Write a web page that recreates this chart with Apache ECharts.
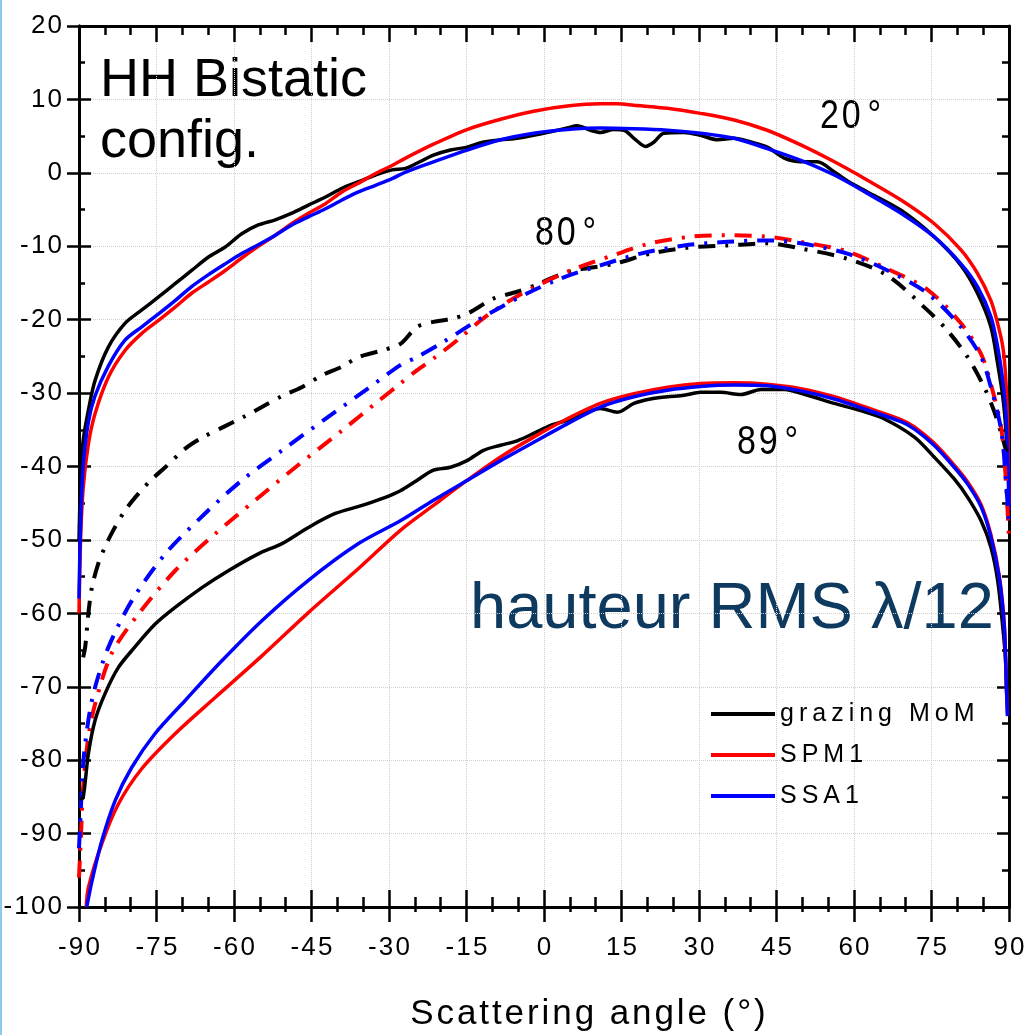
<!DOCTYPE html>
<html>
<head>
<meta charset="utf-8">
<script src="https://cdn.jsdelivr.net/npm/echarts@6/dist/echarts.min.js"></script>
<style>
html,body{margin:0;padding:0;background:#fff;}
#chart{width:1031px;height:1035px;}
</style>
</head>
<body>
<div id="chart"></div>
<script>
// ---- Data (scattering angle in degrees, level in dB) ----
const legendNames = ['grazing MoM', 'SPM1', 'SSA1'];

// 20° incidence (solid)
const mom20 = [[-90,-50],[-89.6,-40],[-89.2,-36.5],[-88.2,-32.4],[-86.9,-28.3],[-84.3,-23.7],[-81.1,-20.5],[-77.9,-18.7],[-74.6,-16.9],[-71.4,-15.1],[-68.2,-13.3],[-65,-11.5],[-61.7,-10.1],[-58.5,-8.3],[-55.3,-7.1],[-52,-6.4],[-48.8,-5.5],[-45.6,-4.4],[-42.3,-3.3],[-39.1,-2.1],[-35.9,-1.2],[-32.6,-0.3],[-29.4,0.4],[-26.8,0.6],[-24.6,1.3],[-21.4,2.4],[-18.1,3.1],[-14.9,3.5],[-11.7,4.2],[-8.4,4.5],[-5.2,4.7],[-2,5.1],[1.3,5.6],[4.5,6.1],[6.4,6.4],[9,5.8],[10.9,5.5],[13.5,5.9],[15.5,5.8],[17.4,4.7],[19.7,3.6],[21.3,4.2],[23.2,5.4],[27.1,5.5],[30.3,5.1],[33.6,4.5],[36.8,4.7],[40,4.2],[43.2,3.5],[46.5,2.0],[49.7,1.5],[52.9,1.5],[56.2,0.1],[59.4,-1.4],[62.6,-2.6],[69.1,-5.1],[75.5,-8.7],[80.7,-12.6],[83.9,-16.4],[86.5,-21],[87.8,-26],[88.8,-30.5],[89.4,-35],[89.8,-40],[90,-43]];
const spm20 = [[-90,-60],[-89.7,-50],[-89.2,-43],[-88.2,-37],[-86.9,-32.8],[-84.3,-27.8],[-81.1,-24.2],[-77.9,-21.9],[-74.6,-20.1],[-71.4,-18.3],[-68.2,-16.4],[-65,-14.9],[-61.7,-13.3],[-58.5,-11.6],[-55.3,-10.0],[-52,-8.5],[-48.8,-6.9],[-45.6,-5.5],[-42.3,-4.2],[-39.1,-2.6],[-35.9,-1.4],[-32.6,-0.1],[-29.4,1.0],[-26.8,2.0],[-21.4,3.9],[-14.9,5.9],[-8.4,7.3],[-2,8.4],[4.5,9.1],[10.9,9.4],[14.2,9.4],[17.4,9.2],[23.9,8.8],[30.3,8.1],[36.8,7.2],[43.2,5.8],[49.7,3.8],[56.2,1.5],[62.6,-1.0],[69.1,-3.7],[75.5,-6.9],[80.7,-10.5],[83.9,-13.7],[86.5,-17.4],[87.8,-20.5],[88.8,-23.7],[89.4,-28.3],[89.8,-36],[90,-45]];
const ssa20 = [[-90,-58],[-89.7,-48],[-89.2,-40],[-88.2,-34],[-86.9,-30.4],[-84.3,-26.3],[-81.1,-22.8],[-77.9,-21.0],[-74.6,-19.2],[-71.4,-17.4],[-68.2,-15.5],[-65,-13.9],[-61.7,-12.4],[-58.5,-11.0],[-55.3,-9.8],[-52,-8.5],[-48.8,-7.1],[-45.6,-6.0],[-42.3,-4.9],[-39.1,-3.7],[-35.9,-2.6],[-32.6,-1.7],[-29.4,-0.8],[-26.8,0.1],[-21.4,1.5],[-14.9,3.1],[-8.4,4.5],[-2,5.4],[4.5,5.9],[10.9,6.1],[17.4,6.0],[23.9,5.8],[30.3,5.4],[36.8,4.7],[43.2,3.3],[49.7,1.7],[56.2,-0.3],[62.6,-2.8],[69.1,-5.5],[75.5,-8.7],[80.7,-12.4],[83.9,-15.5],[86.5,-19.6],[87.8,-23.7],[88.8,-28.3],[89.4,-32.8],[89.8,-40],[90,-46]];

// 80° incidence (dash-dot)
const mom80 = [[-89.2,-66],[-88.8,-64.6],[-88.2,-60.1],[-87.5,-56.5],[-86.3,-53.3],[-85,-51.0],[-83.3,-48.6],[-81.1,-46.0],[-78.5,-43.7],[-76,-41.8],[-73.3,-40.1],[-69.5,-37.6],[-66,-36.0],[-62,-34.6],[-58,-33.2],[-54.6,-31.9],[-50.7,-30.4],[-46.9,-29.2],[-43,-27.6],[-39.1,-26.4],[-35.9,-25.1],[-31.4,-24.2],[-27.8,-23.3],[-24.6,-21.0],[-21.4,-20.3],[-18.1,-19.9],[-14.9,-19.2],[-9.7,-17.1],[-5.2,-16.2],[-1.3,-15.2],[1.9,-14.2],[5.8,-13.3],[13.5,-12.4],[20.6,-11.0],[27.7,-10.2],[35.5,-9.9],[43.2,-9.6],[49.7,-10.3],[58.7,-11.7],[66.5,-14.0],[74.2,-18.7],[78.1,-21.5],[82,-25.1],[85.2,-29.2],[87.1,-32.4],[88.5,-35.5],[89.5,-38]];
const spm80 = [[-90,-96],[-89.6,-90],[-89.2,-83.7],[-88.2,-76.9],[-86.9,-72.4],[-83.7,-65.5],[-78.5,-60.1],[-71.4,-54.2],[-63.7,-49.2],[-55.9,-44.6],[-48.1,-40.1],[-39.1,-35.1],[-31.9,-31.0],[-27.8,-28.7],[-24.6,-26.9],[-21.4,-25.3],[-16.8,-22.8],[-11.7,-19.8],[-7.1,-17.6],[-2,-15.6],[5.8,-13.1],[13.5,-11.2],[20.6,-9.6],[28.4,-8.7],[35.5,-8.5],[43.2,-8.7],[49.7,-9.4],[58.7,-10.7],[66.5,-13.1],[74.2,-15.9],[80.7,-20.5],[84.6,-24.7],[86.5,-28.8],[88.5,-34.8],[89.4,-41.9],[90,-50]];
const ssa80 = [[-90,-92],[-89.6,-86],[-89.2,-80.5],[-88.2,-74.6],[-86.9,-70.1],[-84.3,-64.6],[-79.8,-58.3],[-73.3,-51.9],[-65.6,-46.4],[-58.5,-41.9],[-50.7,-37.8],[-41.7,-33.2],[-34.3,-29.5],[-27.8,-26.2],[-24.6,-25.1],[-19.4,-23.0],[-11.7,-19.6],[-3.2,-16.4],[3.2,-14.4],[10.9,-12.6],[18.7,-11.0],[27.1,-9.9],[35.5,-9.4],[43.2,-9.2],[49.7,-9.6],[58.7,-11.0],[66.5,-13.3],[74.2,-16.4],[80.7,-21.0],[84.6,-25.1],[86.5,-29.2],[88.5,-35.1],[89.4,-41.9],[90,-48]];

// 89° incidence (solid)
const mom89 = [[-89.8,-85.3],[-89.2,-85.1],[-88.2,-79.2],[-86.9,-74.6],[-85,-71.0],[-82.4,-67.4],[-79.2,-64.6],[-75.3,-61.5],[-71.4,-59.2],[-66.2,-56.5],[-61.1,-54.2],[-55.3,-51.9],[-50.7,-50.5],[-45.6,-48.3],[-40.4,-46.4],[-35.2,-45.3],[-30.7,-44.2],[-27.8,-43.3],[-24.6,-41.9],[-21.4,-40.5],[-18.1,-40.1],[-14.9,-39.2],[-11.7,-37.8],[-8.4,-37.1],[-5.2,-36.5],[-2,-35.5],[1.3,-34.4],[4.5,-33.7],[7.7,-32.8],[10.9,-32.1],[14.2,-32.6],[17.4,-31.4],[20.6,-30.8],[23.9,-30.5],[27.1,-30.3],[30.3,-29.9],[34.2,-29.9],[38.1,-30.2],[42,-29.5],[46.5,-29.5],[51,-30.3],[56.2,-31.4],[61.3,-32.4],[65.8,-33.5],[71.7,-36.0],[75.5,-38.7],[79.4,-41.7],[82,-44.2],[84.6,-47.4],[86.5,-51.0],[87.8,-55.5],[88.8,-61.9],[89.3,-66],[89.6,-72]];
const spm89 = [[-88.6,-100],[-88.2,-97.4],[-85.6,-91.4],[-82.4,-86.0],[-77.9,-81.2],[-71.4,-76.4],[-63.7,-71.5],[-54.6,-65.8],[-45.6,-59.9],[-35.9,-53.9],[-27.8,-48.7],[-21.4,-45.3],[-14.9,-41.9],[-8.4,-38.7],[-2,-36.0],[4.5,-33.5],[10.9,-31.4],[17.4,-30.1],[23.9,-29.2],[30.3,-28.7],[36.8,-28.6],[43.2,-28.8],[49.7,-29.4],[56.2,-30.5],[62.6,-32.0],[69.1,-33.6],[71.7,-34.6],[75.5,-36.8],[79.4,-39.8],[82,-42.1],[84.6,-45.2],[86.5,-49.3],[88.1,-54.8],[89.1,-61.6],[89.5,-70],[89.7,-73.7]];
const ssa89 = [[-88.5,-100],[-87.5,-96.5],[-85.6,-91.0],[-83,-85.5],[-79.8,-81.0],[-75.3,-76.4],[-69.5,-71.9],[-62.4,-66.5],[-54.6,-61.0],[-45.6,-55.5],[-35.9,-50.5],[-27.8,-47.4],[-21.4,-44.6],[-14.9,-41.9],[-8.4,-39.2],[-2,-36.7],[4.5,-34.2],[10.9,-31.9],[17.4,-30.5],[23.9,-29.6],[30.3,-29.1],[36.8,-28.9],[43.2,-29.0],[49.7,-29.7],[56.2,-30.8],[62.6,-32.3],[69.1,-33.9],[71.7,-34.9],[75.5,-37.1],[79.4,-40.1],[82,-42.4],[84.6,-45.5],[86.5,-49.6],[88.1,-55.1],[89.1,-61.9],[89.5,-70],[89.7,-74]];

// ---- Rendering ----
const SANS = "'Liberation Sans',Arial,sans-serif";
const hair = s => String(s).split('').join('\u200A');
const thin = s => String(s).split('').join('\u2009');

const BLACK = '#000000', RED = '#ff0000', BLUE = '#0000ff';
const DASHDOT = [17, 10, 3, 10];

function line(name, data, color, dashed) {
  return {
    name, type: 'line', data, xAxisIndex: 0, yAxisIndex: 0,
    showSymbol: false, symbol: 'none', smooth: 0.3,
    itemStyle: { color },
    lineStyle: { color, width: dashed ? 4 : 3.5, type: dashed ? DASHDOT : 'solid', cap: 'butt', join: 'round' },
    emphasis: { disabled: true }, silent: true, animation: false
  };
}

const chart = echarts.init(document.getElementById('chart'));
const xBase = { type: 'value', min: -90, max: 90, interval: 15 };
const yBase = { type: 'value', min: -100, max: 20, interval: 10 };
const axLine = { show: true, onZero: false, lineStyle: { color: '#000', width: 3 } };

chart.setOption({
  animation: false,
  backgroundColor: '#fff',
  grid: { left: 79, right: 22, top: 26, bottom: 128, containLabel: false, outerBoundsMode: 'none' },
  xAxis: [
    Object.assign({}, xBase, {
      position: 'bottom',
      axisLine: axLine,
      axisTick: { show: true, inside: true, length: 17, lineStyle: { color: '#000', width: 2.5 } },
      minorTick: { show: true, splitNumber: 3, length: 10, lineStyle: { color: '#000', width: 2.5 } },
      axisLabel: { margin: 28, formatter: v => hair(v), fontFamily: SANS, fontSize: 26, color: '#000' },
      splitLine: { show: true, lineStyle: { color: '#cfcfcf', type: 'dotted', width: 1 } },
      name: hair('Scattering angle (°)'), nameLocation: 'middle', nameGap: 90,
      nameTextStyle: { fontFamily: SANS, fontSize: 35, color: '#000', padding: [0, 0, 0, 88] }
    }),
    Object.assign({}, xBase, {
      position: 'bottom',
      axisLine: axLine,
      axisTick: { show: true, inside: false, length: 15, lineStyle: { color: '#000', width: 2.5 } },
      minorTick: { show: true, splitNumber: 3, length: 5, lineStyle: { color: '#000', width: 2.5 } },
      axisLabel: { show: false }, splitLine: { show: false }
    }),
    Object.assign({}, xBase, {
      position: 'top',
      axisLine: axLine,
      axisTick: { show: true, inside: true, length: 16, lineStyle: { color: '#000', width: 2.5 } },
      minorTick: { show: true, splitNumber: 3, length: 9, lineStyle: { color: '#000', width: 2.5 } },
      axisLabel: { show: false }, splitLine: { show: false }
    })
  ],
  yAxis: [
    Object.assign({}, yBase, {
      position: 'left',
      axisLine: axLine,
      axisTick: { show: true, inside: true, length: 12, lineStyle: { color: '#000', width: 2.5 } },
      minorTick: { show: true, splitNumber: 2, length: 6, lineStyle: { color: '#000', width: 2.5 } },
      axisLabel: { margin: 17, formatter: v => hair(v), fontFamily: SANS, fontSize: 26, color: '#000' },
      splitLine: { show: true, lineStyle: { color: '#cfcfcf', type: 'dotted', width: 1 } }
    }),
    Object.assign({}, yBase, {
      position: 'left',
      axisLine: axLine,
      axisTick: { show: true, inside: false, length: 12, lineStyle: { color: '#000', width: 2.5 } },
      axisLabel: { show: false }, splitLine: { show: false }
    }),
    Object.assign({}, yBase, {
      position: 'right',
      axisLine: axLine,
      axisTick: { show: true, inside: true, length: 12, lineStyle: { color: '#000', width: 2.5 } },
      minorTick: { show: true, splitNumber: 2, length: 7, lineStyle: { color: '#000', width: 2.5 } },
      axisLabel: { show: false }, splitLine: { show: false }
    })
  ],
  legend: {
    data: legendNames, orient: 'vertical', left: 706, top: 695,
    icon: 'rect', itemWidth: 64, itemHeight: 4, itemGap: 13,
    formatter: n => thin(n),
    textStyle: { fontFamily: SANS, fontSize: 25, color: '#000', lineHeight: 28 },
    selectedMode: false
  },
  series: [
    line('grazing MoM', mom20, BLACK, false),
    line('SPM1', spm20, RED, false),
    line('SSA1', ssa20, BLUE, false),
    line('grazing MoM', mom80, BLACK, true),
    line('SPM1', spm80, RED, true),
    line('SSA1', ssa80, BLUE, true),
    line('grazing MoM', mom89, BLACK, false),
    line('SPM1', spm89, RED, false),
    line('SSA1', ssa89, BLUE, false)
  ],
  graphic: [
    { type: 'rect', shape: { x: 0, y: 0, width: 2, height: 1035 }, style: { fill: '#8ccaf2' }, silent: true },
    { type: 'text', x: 100, y: 51, style: { text: 'HH Bistatic\nconfig.', fontFamily: SANS, fontSize: 54, lineHeight: 61, fill: '#000', align: 'left', verticalAlign: 'top' }, silent: true },
    { type: 'text', x: 820, y: 117, scaleX: 0.85, style: { text: hair('20') + '\u2009°', fontFamily: SANS, fontSize: 40, fill: '#000', align: 'left', verticalAlign: 'middle' }, silent: true },
    { type: 'text', x: 535, y: 234, scaleX: 0.85, style: { text: hair('80') + '\u2009°', fontFamily: SANS, fontSize: 40, fill: '#000', align: 'left', verticalAlign: 'middle' }, silent: true },
    { type: 'text', x: 737, y: 443, scaleX: 0.85, style: { text: hair('89') + '\u2009°', fontFamily: SANS, fontSize: 40, fill: '#000', align: 'left', verticalAlign: 'middle' }, silent: true },
    { type: 'text', x: 470, y: 610, style: { text: 'hauteur RMS λ/12', fontFamily: SANS, fontSize: 65, fill: '#0f3a60', align: 'left', verticalAlign: 'middle' }, silent: true }
  ]
});
</script>
</body>
</html>
